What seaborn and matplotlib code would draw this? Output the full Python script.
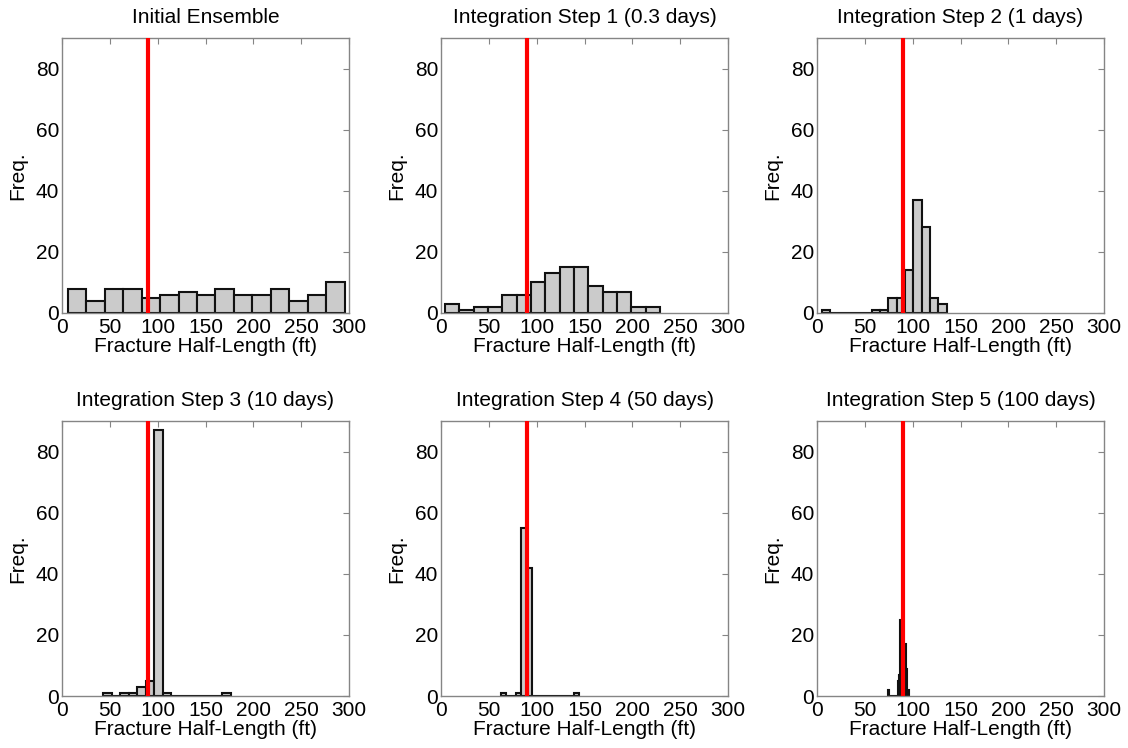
import numpy as np
import pandas as pd
import matplotlib
matplotlib.use("Agg")
import matplotlib.pyplot as plt
import seaborn as sns

# ---------------- data ----------------
titles = [
    "Initial Ensemble",
    "Integration Step 1 (0.3 days)",
    "Integration Step 2 (1 days)",
    "Integration Step 3 (10 days)",
    "Integration Step 4 (50 days)",
    "Integration Step 5 (100 days)",
]

# first bin edge and bin width (ft) of each 15-bin histogram
bin_start = [6.0, 4.0, 5.2, 43.0, 62.2, 74.0]
bin_width = [19.3, 15.0, 8.69, 8.89, 5.46, 1.47]

counts_initial = [8, 4, 8, 8, 5, 6, 7, 6, 8, 6, 6, 8, 4, 6, 10]
counts_step1 = [3, 1, 2, 2, 6, 6, 10, 13, 15, 15, 9, 7, 7, 2, 2]
counts_step2 = [1, 0, 0, 0, 0, 0, 1, 1, 5, 5, 14, 37, 28, 5, 3]
counts_step3 = [1, 0, 1, 1, 3, 5, 87, 1, 0, 0, 0, 0, 0, 0, 1]
counts_step4 = [1, 0, 0, 1, 55, 42, 0, 0, 0, 0, 0, 0, 0, 0, 1]
counts_step5 = [2, 0, 0, 0, 0, 0, 0, 5, 7, 25, 20, 13, 17, 9, 2]
all_counts = [counts_initial, counts_step1, counts_step2,
              counts_step3, counts_step4, counts_step5]

true_value = 90.0          # true fracture half-length (red line)
x_ticks = [0, 50, 100, 150, 200, 250, 300]
y_ticks = [0, 20, 40, 60, 80]
x_label = "Fracture Half-Length (ft)"
y_label = "Freq."

# ---------------- style ----------------
sns.set_style("white")
plt.rcParams["font.family"] = ["Liberation Sans", "DejaVu Sans"]
plt.rcParams["font.size"] = 15
plt.rcParams["text.color"] = "black"
plt.rcParams["axes.labelcolor"] = "black"
plt.rcParams["xtick.color"] = "black"
plt.rcParams["ytick.color"] = "black"

W, H = 1128, 748
fig = plt.figure(figsize=(W / 100, H / 100), dpi=100)

col_left = [62, 441, 817]
row_top = [38, 421]
ax_w, ax_h = 287, 275

box_color = "#858585"
FS = 15
for i in range(6):
    r, c = divmod(i, 3)
    left = col_left[c] / W
    bottom = 1 - (row_top[r] + ax_h) / H
    ax = fig.add_axes([left, bottom, ax_w / W, ax_h / H])

    edges = [bin_start[i] + bin_width[i] * k for k in range(16)]
    centers = [(edges[k] + edges[k + 1]) / 2 for k in range(15)]
    df = pd.DataFrame({"length": centers, "count": all_counts[i]})
    sns.histplot(data=df, x="length", weights="count", bins=edges, ax=ax,
                 color="#cbcbcb", edgecolor="#111111", linewidth=1.5,
                 alpha=1.0, stat="count")
    ax.axvline(true_value, color="red", lw=3.0, zorder=5)

    ax.set_xlim(0, 300)
    ax.set_ylim(0, 90)
    ax.set_xticks(x_ticks)
    ax.set_yticks(y_ticks)
    ax.set_title(titles[i], fontsize=FS, pad=11)
    ax.set_xlabel(x_label, fontsize=FS, labelpad=0)
    ax.set_ylabel(y_label, fontsize=FS, labelpad=6)
    ax.tick_params(direction="in", top=True, right=True, length=4,
                   width=0.8, color=box_color, labelsize=FS,
                   labelcolor="black")
    ax.tick_params(axis="x", pad=3.5)
    ax.tick_params(axis="y", pad=2)
    for s in ax.spines.values():
        s.set_color(box_color)
        s.set_linewidth(1.0)

fig.savefig("out.png", dpi=100)
